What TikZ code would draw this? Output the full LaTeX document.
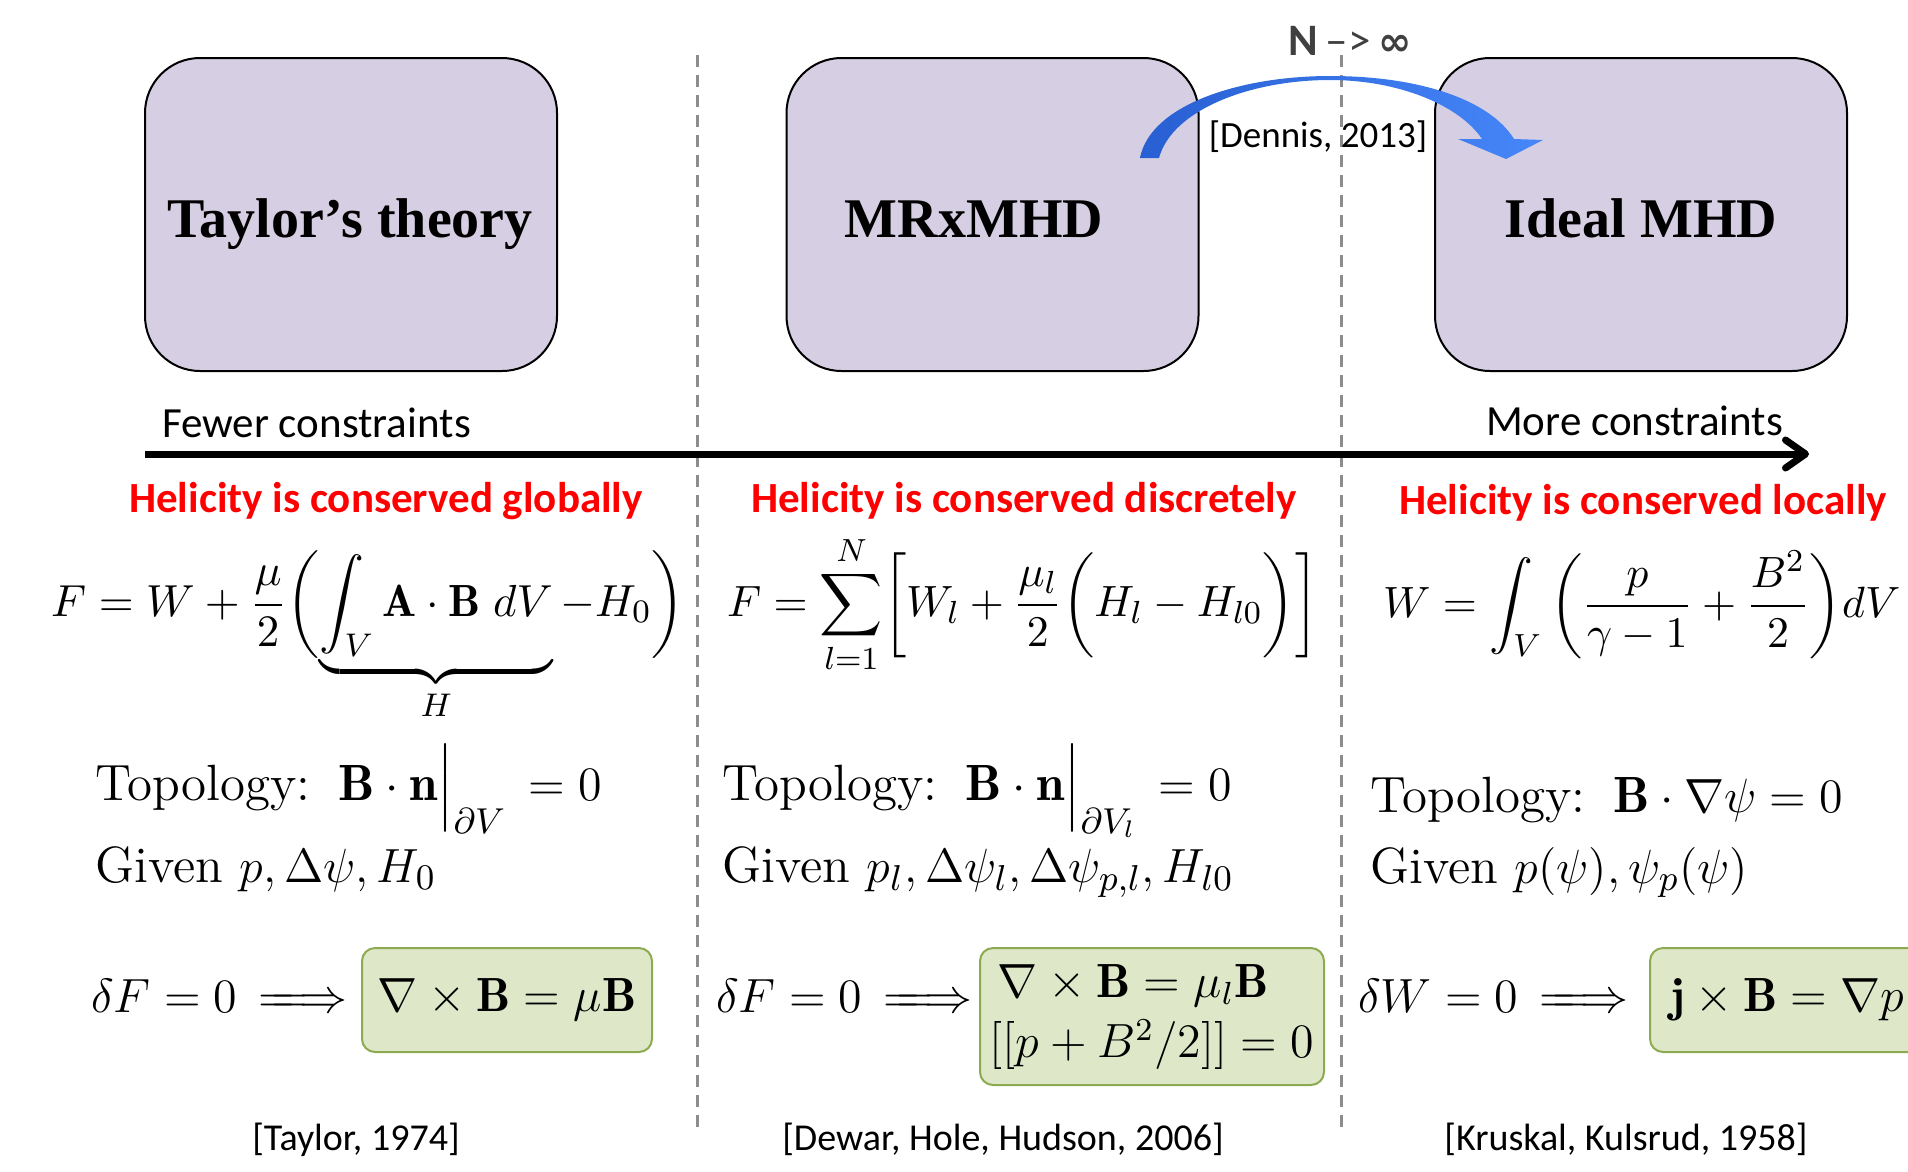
\documentclass[tikz,border=0pt]{standalone}
\usepackage{amsmath}
\usepackage{graphicx}
\usepackage{fontspec}
\newfontfamily\calib{Carlito}
\newfontfamily\serifb{Liberation Serif}
\newfontfamily\dejavu{DejaVu Sans}
\usetikzlibrary{arrows.meta}
\newcommand{\sbx}[1]{\scalebox{4}{#1}}
\newcommand{\longimp}{\mathrel{\Relbar\mkern-9mu\Longrightarrow}}
\definecolor{boxpurple}{RGB}{214,206,226}
\definecolor{boxgreen}{RGB}{222,231,200}
\definecolor{greenborder}{RGB}{140,170,80}
\definecolor{dashgray}{RGB}{140,140,140}
\definecolor{helred}{RGB}{255,0,0}
\definecolor{ngray}{RGB}{64,64,64}
\definecolor{blueL}{RGB}{40,95,210}
\definecolor{blueR}{RGB}{70,135,250}
\tikzset{
  theorybox/.style={draw=black, line width=2pt, fill=boxpurple, rounded corners=55pt,
    minimum width=412pt, minimum height=313pt, inner sep=0pt},
  titletext/.style={font=\serifb\bfseries\fontsize{56}{62}\selectfont, anchor=base, inner sep=0pt},
  redtext/.style={font=\calib\bfseries\fontsize{43}{50}\selectfont, text=helred, anchor=base west, inner sep=0pt},
  labtext/.style={font=\calib\fontsize{43}{50}\selectfont, anchor=base west, inner sep=0pt},
  eqn/.style={font=\fontsize{11}{13}\selectfont, anchor=base west, inner sep=0pt},
  topo/.style={font=\fontsize{12.75}{15}\selectfont, anchor=base west, inner sep=0pt},
  vareqn/.style={font=\fontsize{12}{14}\selectfont, anchor=base west, inner sep=0pt},
  citetext/.style={font=\calib\fontsize{38}{44}\selectfont, anchor=base, inner sep=0pt},
  greenbox/.style={draw=greenborder, line width=2pt, fill=boxgreen, rounded corners=13pt,
    font=\fontsize{12}{14}\selectfont, inner sep=0pt},
  divider/.style={draw=dashgray, line width=3pt, dash pattern=on 12pt off 8pt},
  axisarrow/.style={line width=7pt, -{Straight Barb[length=20pt,width=28pt,round]}}
}
\begin{document}
\begin{tikzpicture}[x=1pt,y=-1pt]
\useasboundingbox (0,0) rectangle (1908,1171);
\clip (0,0) rectangle (1908,1171);

% dividers
\coordinate (d1t) at (697,55);
\coordinate (d1b) at (697,1133);
\coordinate (d2t) at (1341,55);
\coordinate (d2b) at (1341,1133);
\draw[divider] (d1t) -- (d1b);
\draw[divider] (d2t) -- (d2b);

% theory boxes
\node[theorybox] (taylor) at (351,214.5) {};
\node[theorybox] (mrx) at (992.5,214.5) {};
\node[theorybox] (ideal) at (1641,214.5) {};
\node[titletext] (taylorT) at (350,237) {Taylor’s theory};
\node[titletext] (mrxT) at (974,237) {MRxMHD};
\node[titletext] (idealT) at (1641,237) {Ideal MHD};

% blue curved arrow
\shade[left color=blueL, right color=blueR]
  (1140,158) .. controls (1150,105) and (1240,76) .. (1330,76)
  .. controls (1420,76) and (1490,100) .. (1514,139)
  -- (1543,140) -- (1506,159) -- (1458,139) -- (1482,139)
  .. controls (1460,106) and (1400,80) .. (1330,80)
  .. controls (1250,80) and (1172,110) .. (1159,158) -- cycle;
\node[font=\calib\fontsize{45}{50}\selectfont, text=ngray, anchor=center, inner sep=0pt] (ninf) at (1350,41)
  {\bfseries N\,\mdseries –>\,{\dejavu\bfseries\fontsize{40}{44}\selectfont ∞}};
\node[font=\calib\fontsize{37}{42}\selectfont, anchor=center, inner sep=0pt] (dennis) at (1318,137) {[Dennis, 2013]};

% axis
\coordinate (axL) at (145,454);
\coordinate (axR) at (1809,454);
\draw[axisarrow] (axL) -- (axR);
\node[labtext] (fewer) at (162,437) {Fewer constraints};
\node[labtext] (more) at (1486,435) {More constraints};

% red headings
\node[redtext] (hg) at (129,512) {Helicity is conserved globally};
\node[redtext] (hd) at (751,512) {Helicity is conserved discretely};
\node[redtext] (hl) at (1399,514) {Helicity is conserved locally};

% functionals
\node[eqn] (eqF) at (51,616)
  {\scalebox{4.1}{$\displaystyle F = W + \frac{\mu}{2}\biggl(\underbrace{\int_V \mathbf{A}\cdot\mathbf{B}\;dV}_{H} -H_0\biggr)$}};
\node[eqn] (eqFl) at (727,616)
  {\sbx{$\displaystyle F = \sum_{l=1}^{N}\biggl[W_l + \frac{\mu_l}{2}\biggl(H_l - H_{l0}\biggr)\biggr]$}};
\node[eqn] (eqW) at (1383,617)
  {\sbx{$\displaystyle W = \int_V \,\biggl(\frac{p}{\gamma-1}+\frac{B^2}{2}\biggr)dV$}};

% topology / given
\node[topo] (t1) at (95,800) {\sbx{Topology:\hspace{0.55em}$\mathbf{B}\cdot\mathbf{n}\Big|_{\partial V}\, = 0$}};
\node[topo] (g1) at (95,882) {\sbx{Given $p, \Delta\psi, H_0$}};
\node[topo] (t2) at (722,800) {\sbx{Topology:\hspace{0.55em}$\mathbf{B}\cdot\mathbf{n}\Big|_{\partial V_l}\, = 0$}};
\node[topo] (g2) at (722,882) {\sbx{Given $p_l, \Delta\psi_l, \Delta\psi_{p,l}, H_{l0}$}};
\node[topo] (t3) at (1370,812) {\sbx{Topology:\hspace{0.55em}$\mathbf{B}\cdot\nabla\psi = 0$}};
\node[topo] (g3) at (1370,883) {\sbx{Given $p(\psi), \psi_p(\psi)$}};

% variations
\node[vareqn] (v1) at (91,1012) {\sbx{$\delta F = 0\,\longimp$}};
\node[greenbox, minimum width=290pt, minimum height=104pt] (r1) at (507,1000)
  {\sbx{$\nabla\times\mathbf{B} = \mu\mathbf{B}$}};
\node[vareqn] (v2) at (716,1012) {\sbx{$\delta F = 0\,\longimp$}};
\node[greenbox, minimum width=344pt, minimum height=137pt] (r2) at (1152,1016.5)
  {\sbx{\begin{tabular}{@{}l@{}}\hspace{2pt}$\nabla\times\mathbf{B} = \mu_l\mathbf{B}$\\[1pt] $[[p+B^2/2]] = 0$\end{tabular}}};
\node[vareqn] (v3) at (1358,1012) {\sbx{$\delta W = 0\,\longimp$}};
\node[greenbox, minimum width=320pt, minimum height=104pt, anchor=west, text width=280pt,
  align=left, inner xsep=20pt] (r3) at (1649,1000)
  {\sbx{$\mathbf{j}\times\mathbf{B} = \nabla p$}};

% citations
\node[citetext] (c1) at (356,1150) {[Taylor, 1974]};
\node[citetext] (c2) at (1003,1150) {[Dewar, Hole, Hudson, 2006]};
\node[citetext] (c3) at (1626,1150) {[Kruskal, Kulsrud, 1958]};
\end{tikzpicture}
\end{document}
